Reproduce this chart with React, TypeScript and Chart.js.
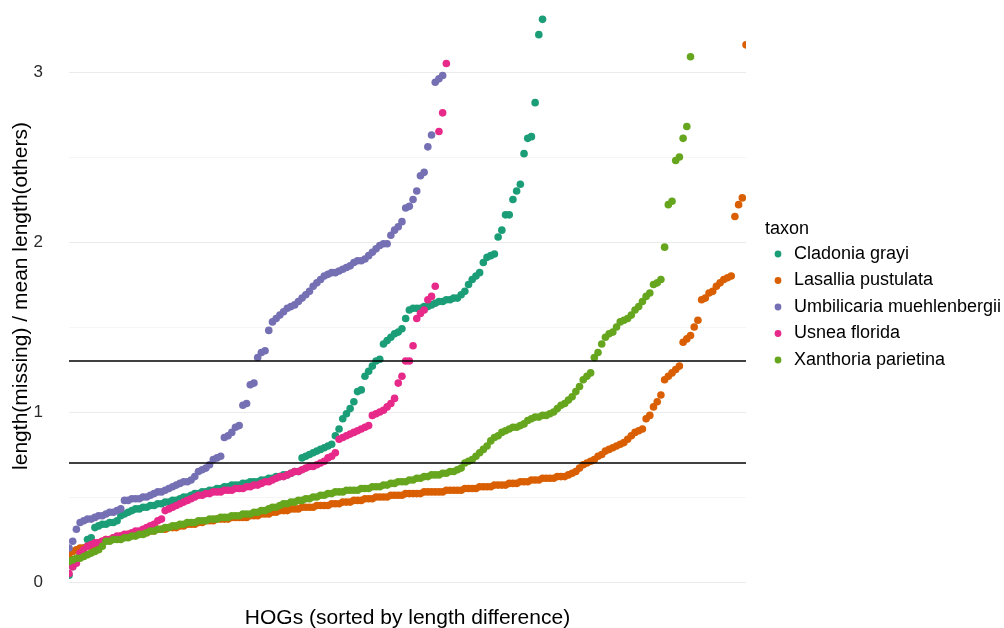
import React, { useEffect, useRef } from "react";
import { Chart, registerables } from "chart.js";

Chart.register(...registerables);

// Taxa (legend order) and their Dark2 colours
const taxa = [
  "Cladonia grayi",
  "Lasallia pustulata",
  "Umbilicaria muehlenbergii",
  "Usnea florida",
  "Xanthoria parietina",
];
const taxonColors = ["#1b9e77", "#d95f02", "#7570b3", "#e7298a", "#66a61e"];

// length(missing) / mean length(others), one value per HOG, sorted ascending
const cladoniaGrayi = [
  0.04, 0.09, 0.13, 0.16, 0.2, 0.25, 0.26, 0.32, 0.33, 0.34,
  0.34, 0.35, 0.35, 0.36, 0.39, 0.4, 0.41, 0.42, 0.43, 0.43,
  0.44, 0.44, 0.45, 0.45, 0.46, 0.46, 0.47, 0.47, 0.48, 0.48,
  0.49, 0.5, 0.5, 0.51, 0.52, 0.52, 0.53, 0.53, 0.54, 0.54,
  0.55, 0.55, 0.56, 0.56, 0.57, 0.57, 0.57, 0.58, 0.58, 0.59,
  0.59, 0.59, 0.6, 0.6, 0.61, 0.61, 0.62, 0.62, 0.63, 0.63,
  0.64, 0.65, 0.65, 0.73, 0.74, 0.75, 0.76, 0.77, 0.78, 0.79,
  0.8, 0.81, 0.86, 0.9, 0.96, 0.99, 1.02, 1.06, 1.12, 1.13,
  1.21, 1.24, 1.27, 1.3, 1.31, 1.4, 1.42, 1.44, 1.46, 1.47,
  1.49, 1.55, 1.6, 1.61, 1.61, 1.61, 1.62, 1.62, 1.63, 1.64,
  1.65, 1.65, 1.66, 1.66, 1.67, 1.67, 1.69, 1.71, 1.75, 1.78,
  1.8, 1.82, 1.88, 1.91, 1.92, 1.93, 2.03, 2.07, 2.16, 2.16,
  2.25, 2.3, 2.34, 2.52, 2.61, 2.62, 2.82, 3.22, 3.31,
];

const lasalliaPustulata = [
  0.15, 0.18, 0.19, 0.2, 0.2, 0.21, 0.21, 0.22, 0.23, 0.24,
  0.25, 0.25, 0.26, 0.26, 0.27, 0.27, 0.28, 0.28, 0.28, 0.29,
  0.29, 0.29, 0.3, 0.3, 0.31, 0.31, 0.31, 0.32, 0.32, 0.32,
  0.33, 0.33, 0.34, 0.34, 0.34, 0.35, 0.35, 0.36, 0.36, 0.36,
  0.37, 0.37, 0.37, 0.37, 0.38, 0.38, 0.38, 0.38, 0.38, 0.39,
  0.39, 0.39, 0.4, 0.4, 0.4, 0.41, 0.41, 0.42, 0.42, 0.42,
  0.43, 0.43, 0.43, 0.44, 0.44, 0.44, 0.44, 0.45, 0.45, 0.45,
  0.45, 0.46, 0.46, 0.46, 0.47, 0.47, 0.47, 0.48, 0.48, 0.48,
  0.49, 0.49, 0.49, 0.5, 0.5, 0.5, 0.5, 0.51, 0.51, 0.51,
  0.51, 0.52, 0.52, 0.52, 0.52, 0.52, 0.53, 0.53, 0.53, 0.53,
  0.53, 0.53, 0.54, 0.54, 0.54, 0.54, 0.54, 0.55, 0.55, 0.55,
  0.55, 0.56, 0.56, 0.56, 0.56, 0.57, 0.57, 0.57, 0.57, 0.58,
  0.58, 0.58, 0.59, 0.59, 0.59, 0.6, 0.6, 0.6, 0.61, 0.61,
  0.61, 0.61, 0.62, 0.62, 0.62, 0.63, 0.64, 0.65, 0.67, 0.69,
  0.7, 0.71, 0.72, 0.74, 0.75, 0.77, 0.78, 0.79, 0.8, 0.81,
  0.82, 0.84, 0.86, 0.88, 0.89, 0.9, 0.96, 0.98, 1.03, 1.06,
  1.1, 1.19, 1.21, 1.23, 1.25, 1.27, 1.41, 1.43, 1.45, 1.5,
  1.54, 1.66, 1.67, 1.7, 1.71, 1.74, 1.76, 1.78, 1.79, 1.8,
  2.15, 2.22, 2.26, 3.16,
];

const umbilicariaMuehlenbergii = [
  0.2, 0.24, 0.31, 0.35, 0.36, 0.37, 0.37, 0.38, 0.39, 0.39,
  0.4, 0.41, 0.41, 0.42, 0.43, 0.48, 0.48, 0.49, 0.49, 0.49,
  0.5, 0.5, 0.51, 0.52, 0.53, 0.53, 0.54, 0.55, 0.56, 0.57,
  0.58, 0.59, 0.59, 0.6, 0.62, 0.65, 0.66, 0.67, 0.69, 0.72,
  0.73, 0.74, 0.85, 0.86, 0.88, 0.91, 0.92, 1.04, 1.05, 1.16,
  1.17, 1.32, 1.35, 1.36, 1.48, 1.53, 1.55, 1.57, 1.59, 1.61,
  1.62, 1.63, 1.65, 1.67, 1.69, 1.71, 1.74, 1.76, 1.78, 1.8,
  1.81, 1.82, 1.82, 1.83, 1.84, 1.85, 1.86, 1.88, 1.89, 1.89,
  1.9, 1.92, 1.94, 1.96, 1.98, 1.99, 1.99, 2.04, 2.07, 2.09,
  2.12, 2.2, 2.21, 2.25, 2.3, 2.39, 2.41, 2.56, 2.63, 2.94,
  2.96, 2.98,
];

const usneaFlorida = [
  0.05, 0.09, 0.11, 0.17, 0.19, 0.21, 0.22, 0.23, 0.23, 0.24,
  0.25, 0.25, 0.26, 0.27, 0.27, 0.28, 0.28, 0.29, 0.3, 0.3,
  0.31, 0.32, 0.33, 0.34, 0.36, 0.37, 0.42, 0.43, 0.44, 0.45,
  0.46, 0.47, 0.48, 0.49, 0.5, 0.51, 0.51, 0.52, 0.52, 0.53,
  0.53, 0.53, 0.54, 0.54, 0.54, 0.55, 0.55, 0.55, 0.56, 0.56,
  0.57, 0.57, 0.58, 0.59, 0.59, 0.6, 0.61, 0.62, 0.62, 0.63,
  0.64, 0.65, 0.65, 0.66, 0.67, 0.68, 0.68, 0.69, 0.7, 0.71,
  0.73, 0.74, 0.76, 0.84, 0.85, 0.86, 0.87, 0.88, 0.89, 0.9,
  0.91, 0.92, 0.98, 0.99, 1.0, 1.01, 1.03, 1.05, 1.08, 1.17,
  1.21, 1.3, 1.3, 1.39, 1.55, 1.58, 1.6, 1.66, 1.68, 1.74,
  2.65, 2.76, 3.05,
];

const xanthoriaParietina = [
  0.12, 0.13, 0.14, 0.14, 0.15, 0.16, 0.17, 0.18, 0.19, 0.21,
  0.24, 0.24, 0.25, 0.25, 0.25, 0.26, 0.26, 0.27, 0.27, 0.28,
  0.28, 0.29, 0.3, 0.3, 0.31, 0.31, 0.32, 0.32, 0.33, 0.33,
  0.34, 0.34, 0.35, 0.35, 0.35, 0.36, 0.36, 0.36, 0.37, 0.37,
  0.37, 0.38, 0.38, 0.38, 0.39, 0.39, 0.39, 0.4, 0.4, 0.4,
  0.41, 0.41, 0.42, 0.42, 0.43, 0.44, 0.44, 0.45, 0.46, 0.46,
  0.47, 0.47, 0.48, 0.48, 0.49, 0.49, 0.5, 0.5, 0.51, 0.51,
  0.52, 0.52, 0.53, 0.53, 0.53, 0.54, 0.54, 0.54, 0.54, 0.55,
  0.55, 0.55, 0.56, 0.56, 0.56, 0.57, 0.57, 0.58, 0.58, 0.59,
  0.59, 0.59, 0.6, 0.6, 0.61, 0.61, 0.62, 0.62, 0.63, 0.63,
  0.63, 0.64, 0.64, 0.65, 0.65, 0.66, 0.67, 0.7, 0.71, 0.72,
  0.74, 0.76, 0.78, 0.8, 0.83, 0.85, 0.86, 0.88, 0.89, 0.9,
  0.91, 0.91, 0.92, 0.93, 0.95, 0.96, 0.97, 0.97, 0.98, 0.98,
  0.99, 1.0, 1.02, 1.04, 1.05, 1.07, 1.09, 1.12, 1.15, 1.19,
  1.21, 1.23, 1.32, 1.35, 1.4, 1.44, 1.46, 1.47, 1.5, 1.53,
  1.54, 1.55, 1.57, 1.6, 1.62, 1.65, 1.68, 1.7, 1.75, 1.76,
  1.78, 1.97, 2.22, 2.24, 2.48, 2.5, 2.61, 2.68, 3.09,
];

const seriesValues = [
  cladoniaGrayi,
  lasalliaPustulata,
  umbilicariaMuehlenbergii,
  usneaFlorida,
  xanthoriaParietina,
];

// Reference thresholds drawn as horizontal rules
const thresholds = [0.7, 1.3];

// Labelled y ticks (half steps carry only a faint grid line)
const yTickLabels = [0, 1, 2, 3];

const FONT = '"Liberation Sans", Arial, Helvetica, sans-serif';

const taxonLegend = {
  id: "taxonLegend",
  afterDraw(chart: any) {
    const ctx = chart.ctx;
    ctx.save();
    ctx.textBaseline = "middle";
    ctx.textAlign = "left";
    ctx.fillStyle = "#000";
    ctx.font = `18px ${FONT}`;
    ctx.fillText("taxon", 765, 229);
    taxa.forEach((name, i) => {
      const y = 254 + i * 26.5;
      ctx.beginPath();
      ctx.fillStyle = taxonColors[i];
      ctx.arc(778, y, 3.4, 0, Math.PI * 2);
      ctx.fill();
      ctx.fillStyle = "#000";
      ctx.fillText(name, 794, y);
    });
    ctx.restore();
  },
};

export default function App() {
  const canvasRef = useRef<HTMLCanvasElement | null>(null);

  useEffect(() => {
    const canvas = canvasRef.current;
    if (!canvas) return;
    const xMax = Math.max(...seriesValues.map((s) => s.length));

    const pointSets = seriesValues.map((values, k) => ({
      type: "scatter" as const,
      label: taxa[k],
      data: values.map((v, i) => ({ x: i + 1, y: v })),
      backgroundColor: taxonColors[k],
      borderWidth: 0,
      pointRadius: 3.8,
      pointHoverRadius: 3.8,
      pointBorderWidth: 0,
      order: seriesValues.length - k,
      clip: 0,
    }));

    const ruleSets = thresholds.map((t) => ({
      type: "line" as const,
      label: `threshold ${t}`,
      data: [
        { x: 1, y: t },
        { x: xMax, y: t },
      ],
      borderColor: "#000",
      borderWidth: 1.6,
      pointRadius: 0,
      fill: false,
      order: 0,
      clip: 0,
    }));

    const chart = new Chart(canvas, {
      type: "scatter",
      data: { datasets: [...pointSets, ...ruleSets] as any },
      options: {
        responsive: false,
        animation: false,
        devicePixelRatio: 1,
        layout: { padding: { left: 0, right: 258, top: 10, bottom: 0 } },
        plugins: {
          legend: { display: false },
          tooltip: { enabled: false },
        },
        scales: {
          x: {
            type: "linear",
            min: 1,
            max: xMax,
            grid: { display: false },
            border: { display: false },
            ticks: { display: false },
            title: {
              display: true,
              text: "HOGs (sorted by length difference)",
              color: "#000",
              font: { family: FONT, size: 21, lineHeight: 0.9 },
              padding: { top: 0, bottom: 0 },
            },
            afterFit(scale: any) {
              scale.height = 46;
              scale.paddingLeft = 0;
              scale.paddingRight = 0;
            },
          },
          y: {
            type: "linear",
            min: 0,
            max: 3.365,
            border: { display: false },
            grid: {
              drawTicks: false,
              lineWidth: 1,
              color: (c: any) =>
                yTickLabels.includes(c.tick?.value) ? "#ebebeb" : "#f5f5f5",
            },
            ticks: {
              stepSize: 0.5,
              includeBounds: false,
              padding: 26,
              color: "#2a2a2a",
              font: { family: FONT, size: 17 },
              callback: (v: any) =>
                yTickLabels.includes(Number(v)) ? String(v) : "",
            },
            title: {
              display: true,
              text: "length(missing) / mean length(others)",
              color: "#000",
              font: { family: FONT, size: 21 },
              padding: { top: 9, bottom: 0 },
            },
            afterFit(scale: any) {
              scale.width = 69;
              scale.paddingTop = 0;
              scale.paddingBottom = 0;
            },
          },
        },
      },
      plugins: [taxonLegend],
    });

    return () => chart.destroy();
  }, []);

  return (
    <div
      style={{
        position: "absolute",
        left: 0,
        top: 0,
        width: 1004,
        height: 628,
        background: "#fff",
      }}
    >
      <canvas ref={canvasRef} width={1004} height={628} />
    </div>
  );
}
